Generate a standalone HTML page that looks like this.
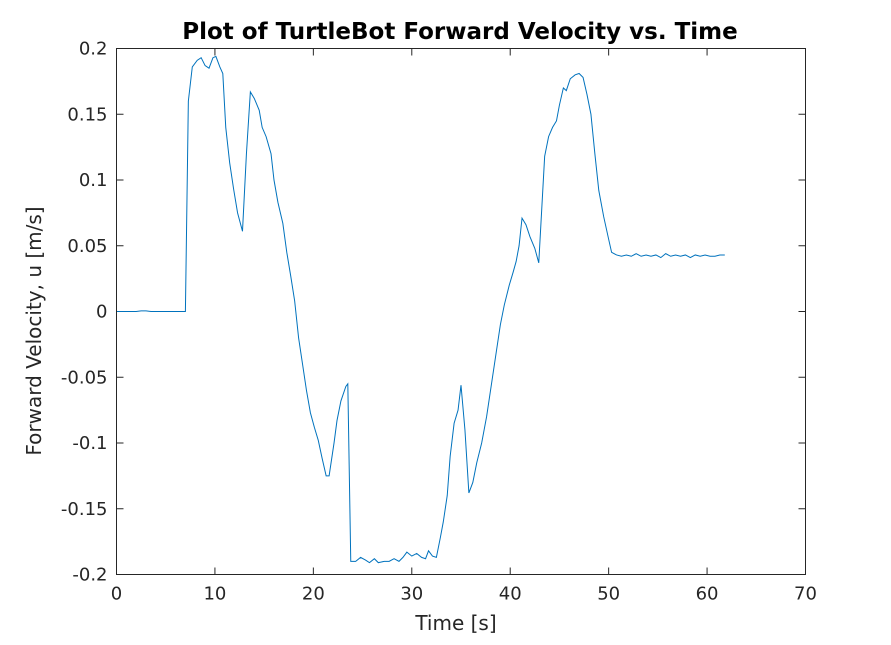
<!DOCTYPE html>
<html><head><meta charset="utf-8"><style>
html,body{margin:0;padding:0;background:#fff;}
svg{display:block;font-family:"DejaVu Sans","Liberation Sans",sans-serif;}
</style></head><body>
<svg id="chart" width="891" height="645" xmlns="http://www.w3.org/2000/svg">
<rect x="0" y="0" width="891" height="645" fill="#fff"/>
<g id="grid"></g>
<path id="series" fill="none" stroke="#0072BD" stroke-width="1"/>
<rect x="116.5" y="48.5" width="689" height="526" fill="none" stroke="#262626" stroke-width="1"/>
<text x="460" y="39" text-anchor="middle" font-size="23" font-weight="bold" fill="#000">Plot of TurtleBot Forward Velocity vs. Time</text>
<text x="456" y="630" text-anchor="middle" font-size="20" fill="#262626">Time [s]</text>
<text x="41" y="331" text-anchor="middle" font-size="20" fill="#262626" transform="rotate(-90 41 331)">Forward Velocity, u [m/s]</text>
</svg>
<script>
const xTicks=[0,10,20,30,40,50,60,70];
const yTicks=[0.2,0.15,0.1,0.05,0,-0.05,-0.1,-0.15,-0.2];
const yTickLabels=["0.2","0.15","0.1","0.05","0","-0.05","-0.1","-0.15","-0.2"];
const times=[0,1,2,2.5,3,3.5,4,5,6,7,7.3,7.7,8.2,8.6,9.0,9.4,9.8,10.1,10.5,10.8,11.1,11.5,11.9,12.3,12.8,13.2,13.6,14.0,14.5,14.8,15.2,15.7,16.0,16.4,16.9,17.3,17.7,18.1,18.5,18.9,19.3,19.7,20.1,20.5,20.9,21.3,21.6,22.1,22.4,22.8,23.3,23.5,23.8,24.3,24.8,25.3,25.7,26.2,26.6,27.2,27.7,28.2,28.7,29.1,29.5,30.0,30.5,31.0,31.4,31.7,32.1,32.5,32.9,33.2,33.6,33.9,34.3,34.7,35.0,35.4,35.8,36.2,36.6,37.1,37.6,38.1,38.6,39.0,39.4,39.9,40.3,40.6,40.9,41.2,41.6,42.0,42.5,42.9,43.5,43.9,44.3,44.7,45.0,45.4,45.7,46.1,46.6,47.0,47.4,47.8,48.2,48.6,49.0,49.5,50.0,50.3,50.8,51.3,51.8,52.3,52.8,53.3,53.8,54.3,54.8,55.3,55.8,56.3,56.8,57.3,57.8,58.3,58.8,59.3,59.8,60.3,60.8,61.3,61.8,62.2,62.6];
const velocity=[0,0,0,0.0005,0.0005,0,0,0,0,0,0.16,0.186,0.191,0.193,0.187,0.185,0.193,0.194,0.186,0.181,0.14,0.113,0.093,0.075,0.061,0.12,0.167,0.162,0.153,0.14,0.133,0.12,0.1,0.083,0.067,0.045,0.027,0.008,-0.02,-0.04,-0.06,-0.077,-0.088,-0.098,-0.112,-0.125,-0.125,-0.1,-0.083,-0.068,-0.057,-0.055,-0.19,-0.19,-0.187,-0.189,-0.191,-0.188,-0.191,-0.19,-0.19,-0.188,-0.19,-0.187,-0.183,-0.186,-0.184,-0.187,-0.188,-0.182,-0.186,-0.187,-0.172,-0.16,-0.14,-0.11,-0.085,-0.075,-0.056,-0.09,-0.138,-0.13,-0.115,-0.1,-0.08,-0.055,-0.03,-0.01,0.005,0.02,0.03,0.038,0.05,0.071,0.066,0.057,0.048,0.037,0.118,0.133,0.14,0.145,0.157,0.17,0.168,0.177,0.18,0.181,0.178,0.165,0.15,0.12,0.092,0.072,0.055,0.045,0.043,0.042,0.043,0.042,0.044,0.042,0.043,0.042,0.043,0.041,0.044,0.042,0.043,0.042,0.043,0.041,0.043,0.042,0.043,0.042,0.042,0.043,0.043];
const X0=116.5,X1=805.5,Y0=574.5,Y1=48.5;
function sx(t){return X0+(t-0)/(70-0)*(X1-X0);}
function sy(v){return Y0-(v+0.2)/0.4*(Y0-Y1);}
const NS="http://www.w3.org/2000/svg";
const g=document.getElementById('grid');
xTicks.forEach(t=>{
  const x=sx(t);
  const l1=document.createElementNS(NS,'path');
  l1.setAttribute('d',`M${x},${Y0}v-7M${x},${Y1}v7`);
  l1.setAttribute('stroke','#262626');
  
  
  g.appendChild(l1);
  const tx=document.createElementNS(NS,'text');
  tx.setAttribute('x',x);tx.setAttribute('y',Y0+25);
  tx.setAttribute('text-anchor','middle');tx.setAttribute('font-size','18');tx.setAttribute('fill','#262626');
  tx.textContent=String(t);
  
  
  g.appendChild(tx);
});
yTicks.forEach((v,i)=>{
  const y=sy(v);
  const l1=document.createElementNS(NS,'path');
  l1.setAttribute('d',`M${X0},${y}h7M${X1},${y}h-7`);
  l1.setAttribute('stroke','#262626');
  
  
  g.appendChild(l1);
  const tx=document.createElementNS(NS,'text');
  tx.setAttribute('x',X0-9);tx.setAttribute('y',y+6);
  tx.setAttribute('text-anchor','end');tx.setAttribute('font-size','18');tx.setAttribute('fill','#262626');
  tx.textContent=yTickLabels[i];
  
  
  g.appendChild(tx);
});
document.getElementById('series').setAttribute('d',times.map((t,i)=>(i?'L':'M')+sx(t).toFixed(2)+','+sy(velocity[i]).toFixed(2)).join(''));
</script>
</body></html>
